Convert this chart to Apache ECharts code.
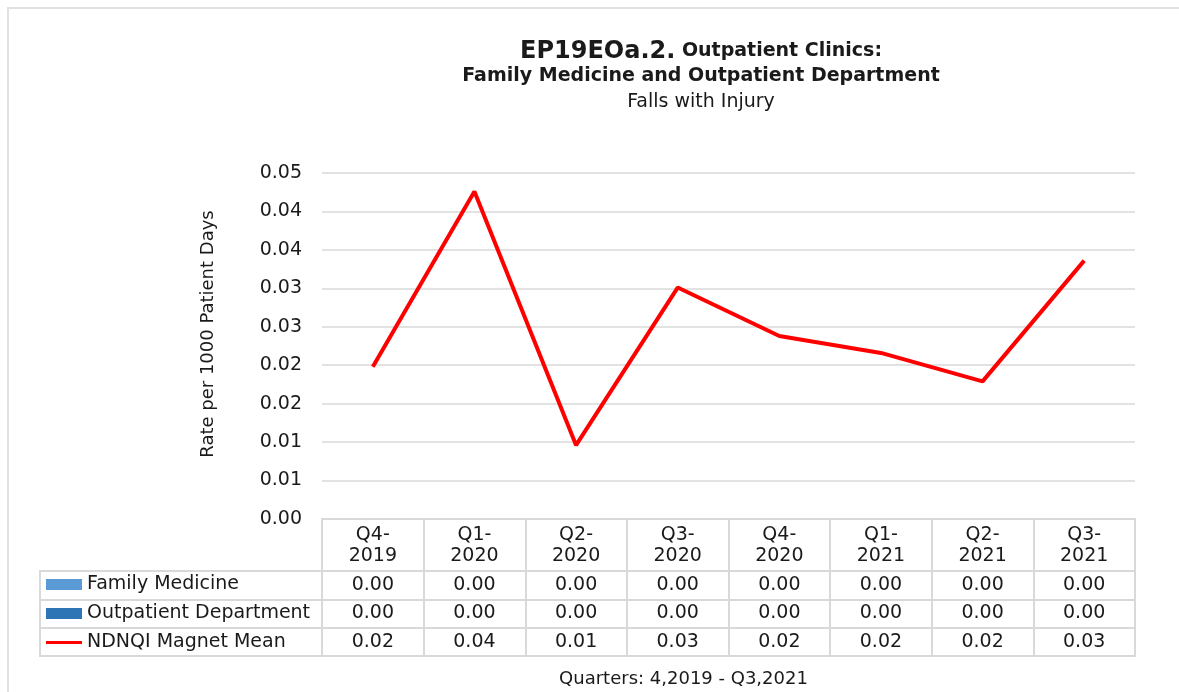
<!DOCTYPE html>
<html>
<head>
<meta charset="utf-8">
<script src="https://cdn.jsdelivr.net/npm/echarts@6/dist/echarts.min.js"></script>
<style>
  html, body { margin: 0; padding: 0; background: #fff; overflow: hidden; }
  #chart { width: 1179px; height: 692px; }
  #frame {
    position: absolute; left: 7px; top: 7px; width: 1172px; height: 685px;
    border-left: 2px solid #e2e2e2; border-top: 2px solid #e2e2e2;
    box-sizing: border-box; pointer-events: none;
  }
</style>
</head>
<body>
<div id="chart"></div>
<div id="frame"></div>
<script>
const quarters = ["Q4-2019", "Q1-2020", "Q2-2020", "Q3-2020", "Q4-2020", "Q1-2021", "Q2-2021", "Q3-2021"];
const familyMedicine = [0, 0, 0, 0, 0, 0, 0, 0];
const outpatientDept = [0, 0, 0, 0, 0, 0, 0, 0];
const magnetMean = [0.0198, 0.0426, 0.0096, 0.0301, 0.0238, 0.0216, 0.0179, 0.0336];
const rowNames = ["Family Medicine", "Outpatient Department", "NDNQI Magnet Mean"];

const font = "DejaVu Sans";
const ink = "#1a1a1a";
const rule = "#d9d9d9";

// table cells: [quarter, row, value]
const rows = [familyMedicine, outpatientDept, magnetMean];
const cells = [];
rows.forEach((vals, r) => vals.forEach((v, q) => cells.push([quarters[q], rowNames[r], v])));

const rowLegend = (name, top, h) => ({
  top: top, left: 46, padding: 0, itemWidth: 36, itemHeight: h,
  data: [{ name: name, icon: "rect" }],
  textStyle: { fontFamily: font, fontSize: 19, color: ink },
  selectedMode: false
});

const chart = echarts.init(document.getElementById("chart"));
chart.setOption({
  animation: false,
  textStyle: { fontFamily: font },
  title: {
    left: 696, top: 34, textAlign: "center",
    text: "{a|EP19EOa.2.}{b| Outpatient Clinics:}\n{b|Family Medicine and Outpatient Department}\n{c|Falls with Injury}",
    textStyle: {
      rich: {
        a: { fontFamily: font, fontWeight: "bold", fontSize: 24, color: ink, lineHeight: 25 },
        b: { fontFamily: font, fontWeight: "bold", fontSize: 19, color: ink, lineHeight: 25 },
        c: { fontFamily: font, fontWeight: "normal", fontSize: 19, color: ink, lineHeight: 26 }
      }
    }
  },
  legend: [
    rowLegend("Family Medicine", 575, 11),
    rowLegend("Outpatient Department", 604, 11),
    rowLegend("NDNQI Magnet Mean", 633, 3)
  ],
  grid: [
    { left: 322, top: 173, width: 813, height: 346 },
    { left: 322, top: 519, width: 813, height: 52, show: true, borderColor: rule, borderWidth: 2 },
    { left: 322, top: 571, width: 813, height: 85, show: true, borderColor: rule, borderWidth: 2 },
    { left: 40, top: 571, width: 282, height: 85, show: true, borderColor: rule, borderWidth: 2 }
  ],
  xAxis: [
    {
      gridIndex: 0, type: "category", data: quarters,
      axisLine: { show: false }, axisTick: { show: false },
      axisLabel: {
        interval: 0, margin: 6, fontSize: 19, lineHeight: 21, color: ink,
        formatter: (q) => q.replace("-", "-\n")
      }
    },
    {
      gridIndex: 1, type: "category", data: quarters,
      axisLine: { show: false }, axisTick: { show: false }, axisLabel: { show: false },
      splitLine: { show: true, lineStyle: { color: rule, width: 2 } }
    },
    {
      gridIndex: 2, type: "category", data: quarters,
      axisLine: { show: false }, axisTick: { show: false }, axisLabel: { show: false },
      splitLine: { show: true, lineStyle: { color: rule, width: 2 } },
      name: "Quarters: 4,2019 - Q3,2021", nameLocation: "middle", nameGap: 14,
      nameTextStyle: { fontFamily: font, fontSize: 18, color: ink, padding: [0, 90, 0, 0], verticalAlign: "top" }
    },
    {
      gridIndex: 3, type: "value", show: false
    }
  ],
  yAxis: [
    {
      gridIndex: 0, type: "value", min: 0, max: 0.045, interval: 0.005,
      axisLine: { show: false }, axisTick: { show: false },
      axisLabel: {
        margin: 20, fontSize: 19, color: ink,
        formatter: (v) => (Math.round(v * 100 + 1e-6) / 100).toFixed(2)
      },
      splitLine: { lineStyle: { color: rule, width: 1.5 } },
      name: "Rate per 1000 Patient Days", nameLocation: "middle", nameGap: 105, nameRotate: 90,
      nameTextStyle: { fontFamily: font, fontSize: 18, color: ink, padding: [0, 0, 0, 24] }
    },
    { gridIndex: 1, type: "value", show: false },
    {
      gridIndex: 2, type: "category", data: rowNames, inverse: true,
      axisLine: { show: false }, axisTick: { show: false }, axisLabel: { show: false },
      splitLine: { show: true, lineStyle: { color: rule, width: 2 } }
    },
    {
      gridIndex: 3, type: "category", data: rowNames, inverse: true,
      axisLine: { show: false }, axisTick: { show: false }, axisLabel: { show: false },
      splitLine: { show: true, lineStyle: { color: rule, width: 2 } }
    }
  ],
  series: [
    {
      name: "Family Medicine", type: "bar", data: familyMedicine,
      xAxisIndex: 0, yAxisIndex: 0, itemStyle: { color: "#5b9bd5" }
    },
    {
      name: "Outpatient Department", type: "bar", data: outpatientDept,
      xAxisIndex: 0, yAxisIndex: 0, itemStyle: { color: "#2e75b6" }
    },
    {
      name: "NDNQI Magnet Mean", type: "line", data: magnetMean,
      xAxisIndex: 0, yAxisIndex: 0, showSymbol: false, symbol: "none",
      lineStyle: { color: "#ff0000", width: 4 }, itemStyle: { color: "#ff0000" }
    },
    {
      name: "table", type: "scatter", data: cells,
      xAxisIndex: 2, yAxisIndex: 2, symbolSize: 0, silent: true,
      itemStyle: { opacity: 1 },
      label: {
        show: true, position: "inside", fontSize: 19, color: ink, fontFamily: font,
        opacity: 1, textBorderWidth: 0,
        formatter: (p) => p.value[2].toFixed(2)
      }
    }
  ]
});
</script>
</body>
</html>
